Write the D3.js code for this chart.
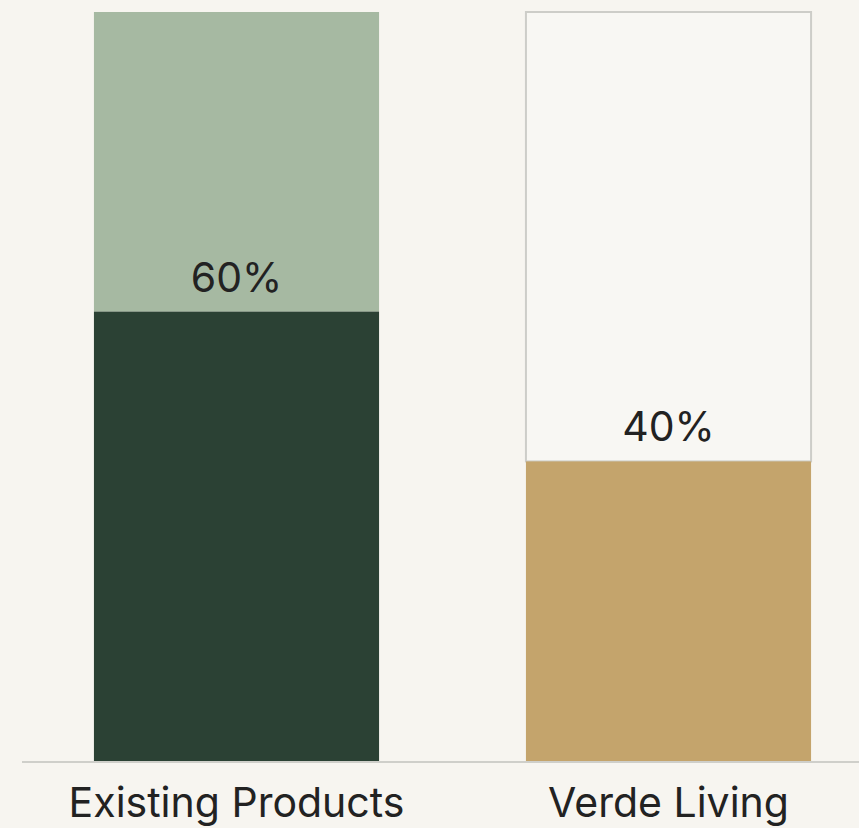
<!DOCTYPE html>
<html>
<head>
<meta charset="utf-8">
<script src="https://cdn.jsdelivr.net/npm/d3@7"></script>
<style>
	body { margin: 0; background: #f7f5f0; }
	svg { display: block; }
</style>
</head>
<body>
<div id="chart"></div>
<script>
// data
var categories = ["Existing Products", "Verde Living"];
var shares = [60, 40];
var shareLabels = ["60%", "40%"];
var fillColors = ["#2b4134", "#c4a46c"];
var restColors = ["#a6b9a2", "#f8f7f3"];

var width = 859,
	height = 828;

var svg = d3.select("#chart")
	.append("svg")
	.attr("width", width)
	.attr("height", height);

svg.append("rect")
	.attr("width", width)
	.attr("height", height)
	.attr("fill", "#f7f5f0");

// scales
var x = d3.scaleBand()
	.domain(categories)
	.range([20.5, 884.5])
	.paddingInner(0.34)
	.paddingOuter(0.17);

var y = d3.scaleLinear()
	.domain([0, 100])
	.range([761, 12]);

var rows = categories.map(function(c, i) {
	return { cat: c, value: shares[i], label: shareLabels[i], fill: fillColors[i], rest: restColors[i], i: i };
});

// remaining part of each bar
svg.append("g")
	.selectAll("rect")
	.data(rows)
	.enter()
	.append("rect")
	.attr("x", function(d) { return x(d.cat); })
	.attr("y", y(100))
	.attr("width", x.bandwidth())
	.attr("height", function(d) { return y(d.value) - y(100); })
	.attr("fill", function(d) { return d.rest; })
	.attr("stroke", function(d) { return d.i == 1 ? "#cdcdc8" : "none"; })
	.attr("stroke-width", 2);

// share part
svg.append("g")
	.selectAll("rect")
	.data(rows)
	.enter()
	.append("rect")
	.attr("x", function(d) { return x(d.cat); })
	.attr("y", function(d) { return y(d.value); })
	.attr("width", x.bandwidth())
	.attr("height", function(d) { return y(0) - y(d.value); })
	.attr("fill", function(d) { return d.fill; });

// value labels
svg.append("g")
	.selectAll("text")
	.data(rows)
	.enter()
	.append("text")
	.attr("x", function(d) { return x(d.cat) + x.bandwidth() / 2; })
	.attr("y", function(d) { return y(d.value) - 20; })
	.attr("text-anchor", "middle")
	.style("font-family", "Inter, 'Noto Sans', sans-serif")
	.style("font-size", "41px")
	.style("fill", "#222")
	.text(function(d) { return d.label; });

// baseline
svg.append("line")
	.attr("x1", 22)
	.attr("x2", width)
	.attr("y1", y(0) + 1)
	.attr("y2", y(0) + 1)
	.attr("stroke", "#cfcfca")
	.attr("stroke-width", 2);

// category labels
var xAxis = svg.append("g")
	.attr("transform", "translate(0," + (y(0) + 1) + ")")
	.call(d3.axisBottom(x).tickSize(0).tickPadding(26));

xAxis.select(".domain").remove();
xAxis.selectAll("text")
	.style("font-family", "Inter, 'Noto Sans', sans-serif")
	.style("font-size", "41px")
	.style("fill", "#222");
</script>
</body>
</html>
